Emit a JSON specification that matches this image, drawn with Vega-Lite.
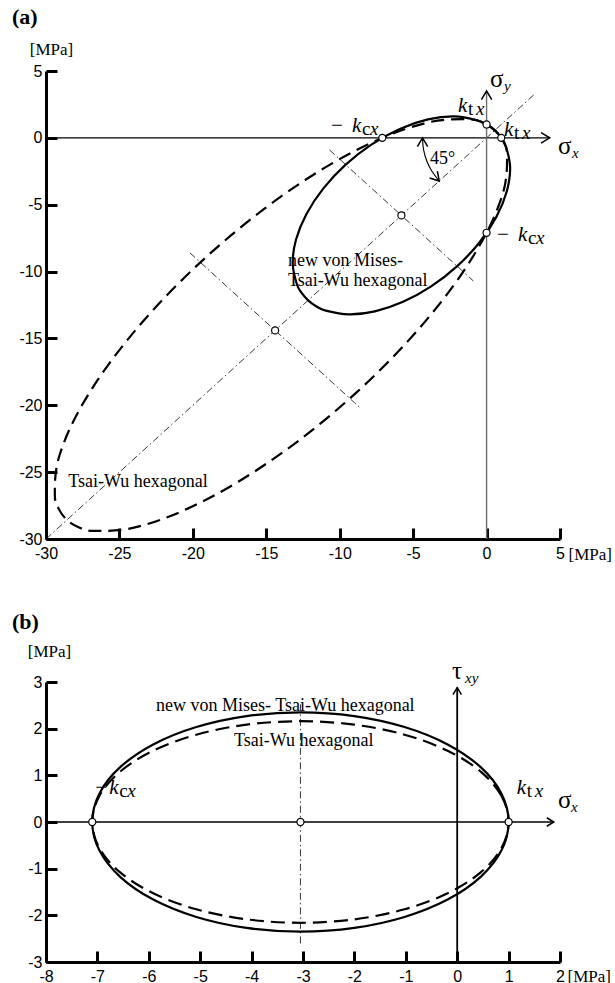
{
  "$schema": "https://vega.github.io/schema/vega-lite/v6.json",
  "autosize": {"type": "pad"},
  "padding": {"left": 12, "top": 6, "right": 2, "bottom": 3},
  "background": "white",
  "spacing": 143,
  "bounds": "flush",
  "config": {
    "view": {"stroke": null},
    "axis": {"domainColor": "black", "domainWidth": 3, "tickColor": "black", "tickWidth": 3, "tickSize": -11,
      "labelFont": "Liberation Sans", "labelFontSize": 16, "labelColor": "black", "grid": false,
      "labelOverlap": false, "labelFlush": false, "titleColor": "black", "titleFont": "Liberation Serif",
      "titleFontSize": 17, "titleFontWeight": "normal"},
    "axisX": {"labelPadding": 17},
    "axisY": {"labelPadding": 15},
    "title": {"font": "Liberation Serif", "fontSize": 22, "fontWeight": "bold", "color": "black", "anchor": "start", "frame": "group"}
  },
  "datasets": {
    "ellA": [
      {"c":"s","t":0,"x":0.555,"y":0.555},{"c":"s","t":7.5,"x":0.005,"y":0.997},{"c":"s","t":15,"x":-0.645,"y":1.321},
      {"c":"s","t":30,"x":-2.195,"y":1.603},{"c":"s","t":45,"x":-3.991,"y":1.379},{"c":"s","t":60,"x":-5.909,"y":0.667},
      {"c":"s","t":75,"x":-7.822,"y":-0.486},{"c":"s","t":90,"x":-9.595,"y":-2.001},{"c":"s","t":105,"x":-11.110,"y":-3.774},
      {"c":"s","t":120,"x":-12.263,"y":-5.687},{"c":"s","t":135,"x":-12.975,"y":-7.605},{"c":"s","t":150,"x":-13.199,"y":-9.401},
      {"c":"s","t":165,"x":-12.917,"y":-10.951},{"c":"s","t":172.5,"x":-12.593,"y":-11.601},{"c":"s","t":180,"x":-12.151,"y":-12.151},
      {"c":"s","t":187.5,"x":-11.601,"y":-12.593},{"c":"s","t":195,"x":-10.951,"y":-12.917},{"c":"s","t":210,"x":-9.401,"y":-13.199},
      {"c":"s","t":225,"x":-7.605,"y":-12.975},{"c":"s","t":240,"x":-5.687,"y":-12.263},{"c":"s","t":255,"x":-3.774,"y":-11.110},
      {"c":"s","t":270,"x":-2.001,"y":-9.595},{"c":"s","t":285,"x":-0.486,"y":-7.822},{"c":"s","t":300,"x":0.667,"y":-5.909},
      {"c":"s","t":315,"x":1.379,"y":-3.991},{"c":"s","t":330,"x":1.603,"y":-2.195},{"c":"s","t":345,"x":1.321,"y":-0.645},
      {"c":"s","t":352.5,"x":0.997,"y":0.005},
      {"c":"d","t":0,"x":0.573,"y":0.573},{"c":"d","t":7.5,"x":-0.217,"y":1.113},{"c":"d","t":15,"x":-1.242,"y":1.394},
      {"c":"d","t":30,"x":-3.926,"y":1.166},{"c":"d","t":45,"x":-7.296,"y":-0.096},{"c":"d","t":60,"x":-11.123,"y":-2.305},
      {"c":"d","t":75,"x":-15.146,"y":-5.312},{"c":"d","t":90,"x":-19.092,"y":-8.910},{"c":"d","t":105,"x":-22.690,"y":-12.856},
      {"c":"d","t":120,"x":-25.697,"y":-16.879},{"c":"d","t":135,"x":-27.906,"y":-20.706},{"c":"d","t":150,"x":-29.168,"y":-24.076},
      {"c":"d","t":165,"x":-29.396,"y":-26.760},{"c":"d","t":172.5,"x":-29.115,"y":-27.785},{"c":"d","t":180,"x":-28.575,"y":-28.575},
      {"c":"d","t":187.5,"x":-27.785,"y":-29.115},{"c":"d","t":195,"x":-26.760,"y":-29.396},{"c":"d","t":210,"x":-24.076,"y":-29.168},
      {"c":"d","t":225,"x":-20.706,"y":-27.906},{"c":"d","t":240,"x":-16.879,"y":-25.697},{"c":"d","t":255,"x":-12.856,"y":-22.690},
      {"c":"d","t":270,"x":-8.910,"y":-19.092},{"c":"d","t":285,"x":-5.312,"y":-15.146},{"c":"d","t":300,"x":-2.305,"y":-11.123},
      {"c":"d","t":315,"x":-0.096,"y":-7.296},{"c":"d","t":330,"x":1.166,"y":-3.926},{"c":"d","t":345,"x":1.394,"y":-1.242},
      {"c":"d","t":352.5,"x":1.113,"y":-0.217}
    ],
    "ellB": [
      {"c":"s","t":0,"x":1.0,"y":0},{"c":"s","t":15,"x":0.862,"y":0.608},{"c":"s","t":30,"x":0.457,"y":1.175},
      {"c":"s","t":45,"x":-0.186,"y":1.662},{"c":"s","t":60,"x":-1.025,"y":2.035},{"c":"s","t":75,"x":-2.002,"y":2.270},
      {"c":"s","t":90,"x":-3.05,"y":2.35},{"c":"s","t":105,"x":-4.098,"y":2.270},{"c":"s","t":120,"x":-5.075,"y":2.035},
      {"c":"s","t":135,"x":-5.914,"y":1.662},{"c":"s","t":150,"x":-6.557,"y":1.175},{"c":"s","t":165,"x":-6.962,"y":0.608},
      {"c":"s","t":180,"x":-7.1,"y":0},{"c":"s","t":195,"x":-6.962,"y":-0.608},{"c":"s","t":210,"x":-6.557,"y":-1.175},
      {"c":"s","t":225,"x":-5.914,"y":-1.662},{"c":"s","t":240,"x":-5.075,"y":-2.035},{"c":"s","t":255,"x":-4.098,"y":-2.270},
      {"c":"s","t":270,"x":-3.05,"y":-2.35},{"c":"s","t":285,"x":-2.002,"y":-2.270},{"c":"s","t":300,"x":-1.025,"y":-2.035},
      {"c":"s","t":315,"x":-0.186,"y":-1.662},{"c":"s","t":330,"x":0.457,"y":-1.175},{"c":"s","t":345,"x":0.862,"y":-0.608},
      {"c":"d","t":0,"x":1.0,"y":0},{"c":"d","t":15,"x":0.862,"y":0.559},{"c":"d","t":30,"x":0.457,"y":1.080},
      {"c":"d","t":45,"x":-0.186,"y":1.527},{"c":"d","t":60,"x":-1.025,"y":1.871},{"c":"d","t":75,"x":-2.002,"y":2.086},
      {"c":"d","t":90,"x":-3.05,"y":2.16},{"c":"d","t":105,"x":-4.098,"y":2.086},{"c":"d","t":120,"x":-5.075,"y":1.871},
      {"c":"d","t":135,"x":-5.914,"y":1.527},{"c":"d","t":150,"x":-6.557,"y":1.080},{"c":"d","t":165,"x":-6.962,"y":0.559},
      {"c":"d","t":180,"x":-7.1,"y":0},{"c":"d","t":195,"x":-6.962,"y":-0.559},{"c":"d","t":210,"x":-6.557,"y":-1.080},
      {"c":"d","t":225,"x":-5.914,"y":-1.527},{"c":"d","t":240,"x":-5.075,"y":-1.871},{"c":"d","t":255,"x":-4.098,"y":-2.086},
      {"c":"d","t":270,"x":-3.05,"y":-2.16},{"c":"d","t":285,"x":-2.002,"y":-2.086},{"c":"d","t":300,"x":-1.025,"y":-1.871},
      {"c":"d","t":315,"x":-0.186,"y":-1.527},{"c":"d","t":330,"x":0.457,"y":-1.080},{"c":"d","t":345,"x":0.862,"y":-0.559}
    ],
    "linesA": [
      {"k":"dd","x":-30,"y":-30,"x2":3.3,"y2":3.3},
      {"k":"dd","x":-10.7,"y":-0.9,"x2":-0.9,"y2":-10.7},
      {"k":"dd","x":-20.2,"y":-8.6,"x2":-8.6,"y2":-20.2},
      {"k":"h","x":-30,"y":0,"x2":4.3,"y2":0},
      {"k":"v","x":0,"y":-30,"x2":0,"y2":3.5}
    ],
    "linesB": [
      {"k":"dd","x":-3.05,"y":-2.6,"x2":-3.05,"y2":2.58},
      {"k":"h","x":-8,"y":0,"x2":1.88,"y2":0},
      {"k":"v","x":0,"y":-3,"x2":0,"y2":2.88}
    ],
    "arcA": [
      {"t":0,"x":-4.36,"y":0},{"t":1,"x":-4.29,"y":-0.88},{"t":2,"x":-4.07,"y":-1.73},{"t":3,"x":-3.71,"y":-2.52},{"t":4,"x":-3.22,"y":-3.23}
    ],
    "arrowsA": [
      {"k":"right","x":4.3,"y":0},{"k":"up","x":0,"y":3.5},{"k":"up","x":-4.36,"y":0},{"k":"arcend","x":-3.22,"y":-3.23}
    ],
    "arrowsB": [
      {"k":"right","x":1.88,"y":0},{"k":"up","x":0,"y":2.88}
    ],
    "ptsA": [
      {"x":0,"y":1},{"x":1,"y":0},{"x":-7.1,"y":0},{"x":0,"y":-7.1},{"x":-5.8,"y":-5.8},{"x":-14.4,"y":-14.4}
    ],
    "ptsB": [
      {"x":-7.1,"y":0},{"x":1.0,"y":0},{"x":-3.05,"y":0}
    ],
    "txtA": [
      {"x":-13.52,"y":-9.57,"s":"new von Mises-"},
      {"x":-13.52,"y":-11.07,"s":"Tsai-Wu hexagonal"},
      {"x":-28.48,"y":-26.1,"s":"Tsai-Wu hexagonal"},
      {"x":-3.85,"y":-1.92,"s":"45°"}
    ],
    "txtB": [
      {"x":-5.86,"y":2.38,"s":"new von Mises- Tsai-Wu hexagonal"},
      {"x":-4.34,"y":1.62,"s":"Tsai-Wu hexagonal"}
    ],
    "sigA": [
      {"x":0.23,"y":3.8,"s":"σ","sub":"y"},
      {"x":4.86,"y":-1.17,"s":"σ","sub":"x"}
    ],
    "sigB": [
      {"x":1.96,"y":0.31,"s":"σ","sub":"x"},
      {"x":-0.1,"y":3.06,"s":"τ","sub":"xy"}
    ],
    "kA": [
      {"x":-9.16,"y":0.45,"pre":"−","s1":"c"},
      {"x":2.14,"y":-7.7,"pre":"−","s1":"c"},
      {"x":-1.95,"y":1.94,"pre":"","s1":"t"},
      {"x":1.18,"y":0.15,"pre":"","s1":"t"}
    ],
    "kB": [
      {"x":-6.77,"y":0.61,"pre":"−","s1":"c"},
      {"x":1.16,"y":0.61,"pre":"","s1":"t"}
    ]
  },
  "vconcat": [
    {
      "width": 514, "height": 468,
      "title": {"text": "(a)", "dx": -34, "offset": -6, "baseline": "alphabetic"},
      "encoding": {
        "x": {"field": "x", "type": "quantitative", "scale": {"domain": [-30, 5], "nice": false, "zero": false},
          "axis": {"values": [-30, -25, -20, -15, -10, -5, 0, 5], "labelExpr": "'' + datum.value", "title": "[MPa]",
            "titleX": 522, "titleY": 20, "titleAlign": "left", "titleBaseline": "alphabetic", "titleAngle": 0}},
        "y": {"field": "y", "type": "quantitative", "scale": {"domain": [-30, 5], "nice": false, "zero": false},
          "axis": {"values": [-30, -25, -20, -15, -10, -5, 0, 5], "labelExpr": "'' + datum.value", "title": "[MPa]",
            "titleX": 5, "titleY": -17, "titleAlign": "center", "titleBaseline": "alphabetic", "titleAngle": 0}}
      },
      "layer": [
        {"data": {"name": "linesA"}, "transform": [{"filter": "datum.k == 'dd'"}],
          "mark": {"type": "rule", "color": "black", "strokeWidth": 0.8, "strokeDash": [7, 3, 1.5, 3]},
          "encoding": {"x2": {"field": "x2"}, "y2": {"field": "y2"}}},
        {"data": {"name": "linesA"}, "transform": [{"filter": "datum.k == 'h'"}],
          "mark": {"type": "rule", "color": "black", "strokeWidth": 1.2},
          "encoding": {"x2": {"field": "x2"}, "y2": {"field": "y2"}}},
        {"data": {"name": "linesA"}, "transform": [{"filter": "datum.k == 'v'"}],
          "mark": {"type": "rule", "color": "#6e6e6e", "strokeWidth": 1.4},
          "encoding": {"x2": {"field": "x2"}, "y2": {"field": "y2"}}},
        {"data": {"name": "ellA"}, "transform": [{"filter": "datum.c == 's'"}],
          "mark": {"type": "line", "color": "black", "strokeWidth": 2.2, "interpolate": "cardinal-closed"},
          "encoding": {"order": {"field": "t", "type": "quantitative"}}},
        {"data": {"name": "ellA"}, "transform": [{"filter": "datum.c == 'd'"}],
          "mark": {"type": "line", "color": "black", "strokeWidth": 2.2, "strokeDash": [13, 7], "interpolate": "cardinal-closed"},
          "encoding": {"order": {"field": "t", "type": "quantitative"}}},
        {"data": {"name": "arcA"},
          "mark": {"type": "line", "color": "black", "strokeWidth": 1.1, "interpolate": "cardinal"},
          "encoding": {"order": {"field": "t", "type": "quantitative"}}},
        {"data": {"name": "arrowsA"}, "transform": [{"filter": "datum.k == 'right'"}],
          "mark": {"type": "point", "shape": "M -1 -0.6 L 0 0 L -1 0.6", "filled": false, "stroke": "black", "strokeWidth": 1.5, "size": 300, "angle": 0, "opacity": 1}},
        {"data": {"name": "arrowsA"}, "transform": [{"filter": "datum.k == 'up'"}],
          "mark": {"type": "point", "shape": "M -1 -0.6 L 0 0 L -1 0.6", "filled": false, "stroke": "black", "strokeWidth": 1.5, "size": 300, "angle": 270, "opacity": 1}},
        {"data": {"name": "arrowsA"}, "transform": [{"filter": "datum.k == 'arcend'"}],
          "mark": {"type": "point", "shape": "M -1 -0.6 L 0 0 L -1 0.6", "filled": false, "stroke": "black", "strokeWidth": 1.5, "size": 300, "angle": 48, "opacity": 1}},
        {"data": {"name": "ptsA"},
          "mark": {"type": "point", "shape": "circle", "filled": true, "fill": "white", "stroke": "black", "strokeWidth": 1.2, "size": 50, "opacity": 1}},
        {"data": {"name": "txtA"},
          "mark": {"type": "text", "font": "Liberation Serif", "fontSize": 18, "align": "left", "baseline": "alphabetic", "color": "black"},
          "encoding": {"text": {"field": "s"}}},
        {"data": {"name": "sigA"},
          "mark": {"type": "text", "font": "Liberation Serif", "fontSize": 25, "align": "left", "baseline": "alphabetic", "color": "black"},
          "encoding": {"text": {"field": "s"}}},
        {"data": {"name": "sigA"},
          "mark": {"type": "text", "font": "Liberation Serif", "fontSize": 15, "fontStyle": "italic", "align": "left", "baseline": "alphabetic", "color": "black", "dx": 14, "dy": 4},
          "encoding": {"text": {"field": "sub"}}},
        {"data": {"name": "kA"},
          "mark": {"type": "text", "font": "Liberation Serif", "fontSize": 21, "fontStyle": "italic", "align": "left", "baseline": "alphabetic", "color": "black"},
          "encoding": {"text": {"value": "k"}}},
        {"data": {"name": "kA"},
          "mark": {"type": "text", "font": "Liberation Serif", "fontSize": 21, "align": "left", "baseline": "alphabetic", "color": "black", "dx": -21},
          "encoding": {"text": {"field": "pre"}}},
        {"data": {"name": "kA"},
          "mark": {"type": "text", "font": "Liberation Serif", "fontSize": 19, "align": "left", "baseline": "alphabetic", "color": "black", "dx": 10, "dy": 3},
          "encoding": {"text": {"field": "s1"}}},
        {"data": {"name": "kA"},
          "mark": {"type": "text", "font": "Liberation Serif", "fontSize": 19, "fontStyle": "italic", "align": "left", "baseline": "alphabetic", "color": "black", "dx": 18, "dy": 3},
          "encoding": {"text": {"value": "x"}}}
      ]
    },
    {
      "width": 514, "height": 280,
      "title": {"text": "(b)", "dx": -34, "offset": -9, "baseline": "alphabetic"},
      "encoding": {
        "x": {"field": "x", "type": "quantitative", "scale": {"domain": [-8, 2], "nice": false, "zero": false},
          "axis": {"values": [-8, -7, -6, -5, -4, -3, -2, -1, 0, 1, 2], "labelExpr": "'' + datum.value", "title": "[MPa]",
            "titleX": 521, "titleY": 19, "titleAlign": "left", "titleBaseline": "alphabetic", "titleAngle": 0}},
        "y": {"field": "y", "type": "quantitative", "scale": {"domain": [-3, 3], "nice": false, "zero": false},
          "axis": {"values": [-3, -2, -1, 0, 1, 2, 3], "labelExpr": "'' + datum.value", "title": "[MPa]",
            "titleX": 3, "titleY": -26, "titleAlign": "center", "titleBaseline": "alphabetic", "titleAngle": 0}}
      },
      "layer": [
        {"data": {"name": "linesB"}, "transform": [{"filter": "datum.k == 'dd'"}],
          "mark": {"type": "rule", "color": "black", "strokeWidth": 0.8, "strokeDash": [7, 3, 1.5, 3]},
          "encoding": {"x2": {"field": "x2"}, "y2": {"field": "y2"}}},
        {"data": {"name": "linesB"}, "transform": [{"filter": "datum.k == 'h'"}],
          "mark": {"type": "rule", "color": "black", "strokeWidth": 1.4},
          "encoding": {"x2": {"field": "x2"}, "y2": {"field": "y2"}}},
        {"data": {"name": "linesB"}, "transform": [{"filter": "datum.k == 'v'"}],
          "mark": {"type": "rule", "color": "black", "strokeWidth": 1.8},
          "encoding": {"x2": {"field": "x2"}, "y2": {"field": "y2"}}},
        {"data": {"name": "ellB"}, "transform": [{"filter": "datum.c == 's'"}],
          "mark": {"type": "line", "color": "black", "strokeWidth": 2.2, "interpolate": "cardinal-closed"},
          "encoding": {"order": {"field": "t", "type": "quantitative"}}},
        {"data": {"name": "ellB"}, "transform": [{"filter": "datum.c == 'd'"}],
          "mark": {"type": "line", "color": "black", "strokeWidth": 2.2, "strokeDash": [14, 7], "interpolate": "cardinal-closed"},
          "encoding": {"order": {"field": "t", "type": "quantitative"}}},
        {"data": {"name": "arrowsB"}, "transform": [{"filter": "datum.k == 'right'"}],
          "mark": {"type": "point", "shape": "M -1 -0.6 L 0 0 L -1 0.6", "filled": false, "stroke": "black", "strokeWidth": 1.5, "size": 200, "angle": 0, "opacity": 1}},
        {"data": {"name": "arrowsB"}, "transform": [{"filter": "datum.k == 'up'"}],
          "mark": {"type": "point", "shape": "M -1 -0.6 L 0 0 L -1 0.6", "filled": false, "stroke": "black", "strokeWidth": 1.5, "size": 200, "angle": 270, "opacity": 1}},
        {"data": {"name": "ptsB"},
          "mark": {"type": "point", "shape": "circle", "filled": true, "fill": "white", "stroke": "black", "strokeWidth": 1.2, "size": 50, "opacity": 1}},
        {"data": {"name": "txtB"},
          "mark": {"type": "text", "font": "Liberation Serif", "fontSize": 18, "align": "left", "baseline": "alphabetic", "color": "black"},
          "encoding": {"text": {"field": "s"}}},
        {"data": {"name": "sigB"},
          "mark": {"type": "text", "font": "Liberation Serif", "fontSize": 25, "align": "left", "baseline": "alphabetic", "color": "black"},
          "encoding": {"text": {"field": "s"}}},
        {"data": {"name": "sigB"},
          "mark": {"type": "text", "font": "Liberation Serif", "fontSize": 15, "fontStyle": "italic", "align": "left", "baseline": "alphabetic", "color": "black", "dx": 13, "dy": 4},
          "encoding": {"text": {"field": "sub"}}},
        {"data": {"name": "kB"},
          "mark": {"type": "text", "font": "Liberation Serif", "fontSize": 21, "fontStyle": "italic", "align": "left", "baseline": "alphabetic", "color": "black"},
          "encoding": {"text": {"value": "k"}}},
        {"data": {"name": "kB"},
          "mark": {"type": "text", "font": "Liberation Serif", "fontSize": 21, "align": "left", "baseline": "alphabetic", "color": "black", "dx": -14},
          "encoding": {"text": {"field": "pre"}}},
        {"data": {"name": "kB"},
          "mark": {"type": "text", "font": "Liberation Serif", "fontSize": 19, "align": "left", "baseline": "alphabetic", "color": "black", "dx": 10, "dy": 3},
          "encoding": {"text": {"field": "s1"}}},
        {"data": {"name": "kB"},
          "mark": {"type": "text", "font": "Liberation Serif", "fontSize": 19, "fontStyle": "italic", "align": "left", "baseline": "alphabetic", "color": "black", "dx": 18, "dy": 3},
          "encoding": {"text": {"value": "x"}}}
      ]
    }
  ]
}
